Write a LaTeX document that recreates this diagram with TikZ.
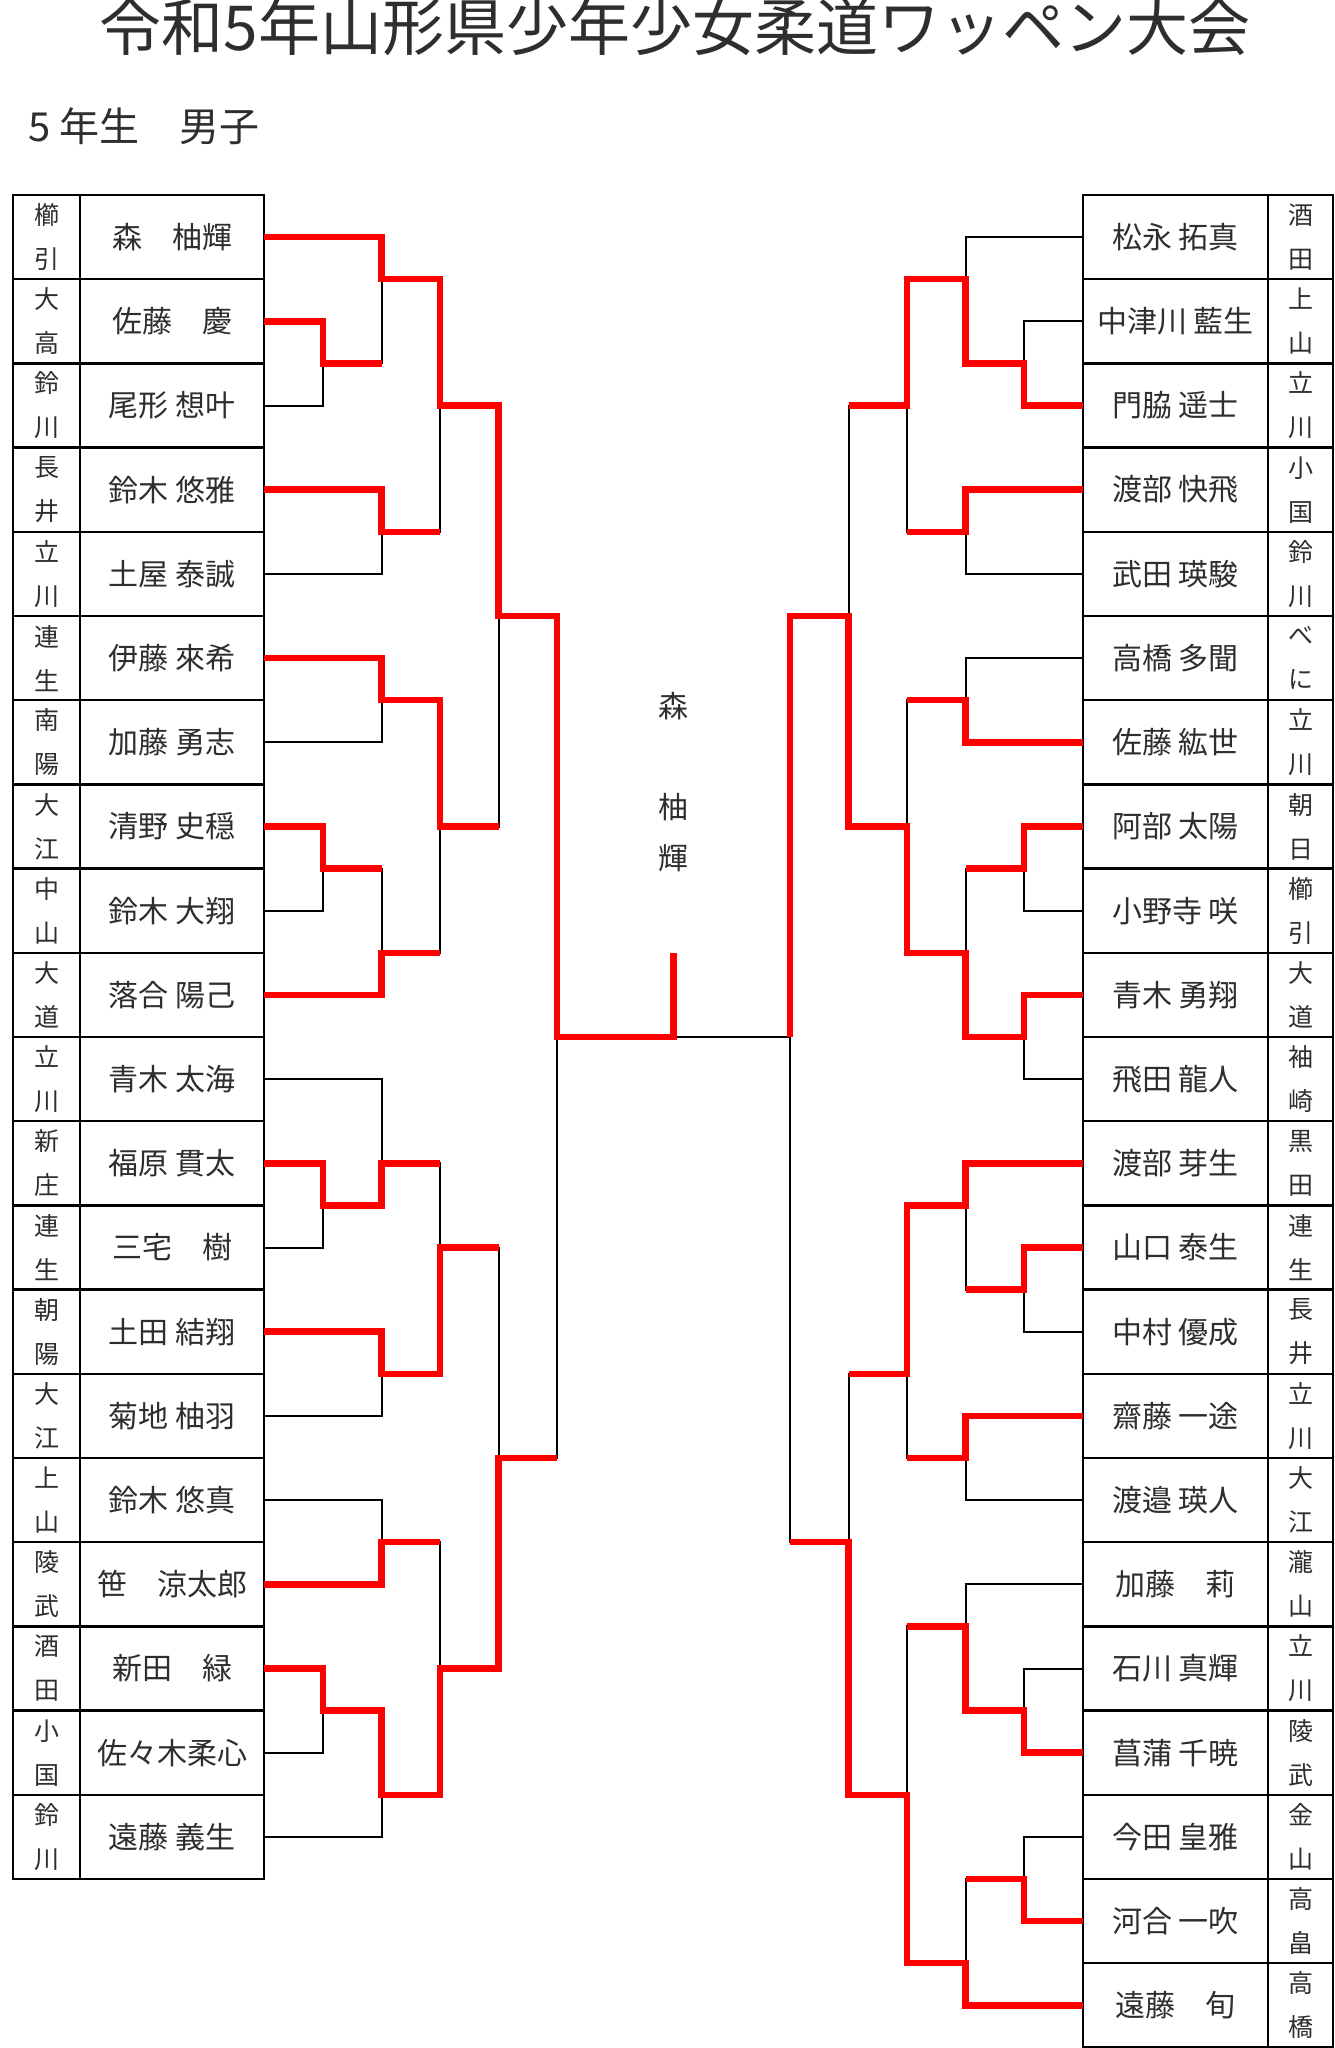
\documentclass[tikz,border=0pt]{standalone}
\usepackage{fontspec}
\setmainfont{Noto Sans CJK JP}
\definecolor{txt}{gray}{0.18}
\definecolor{brk}{RGB}{255,0,0}
\newcommand{\mynamefont}{\fontsize{30}{36}\selectfont}
\newcommand{\myprefont}{\fontsize{25}{44}\selectfont}
\newcommand{\mytitlefont}{\fontsize{62}{70}\selectfont}
\newcommand{\mysubfont}{\fontsize{40}{48}\selectfont}
\newcommand{\mychampfont}{\fontsize{30}{50.7}\selectfont}
\begin{document}
\begin{tikzpicture}[x=1pt,y=-1pt,
  declare function={ky(\k)=195+42.1*\k;},
  cell/.style={draw, line width=2.5pt, inner sep=0pt, outer sep=0pt, text=txt, minimum height=84.2pt},
  lname/.style={cell, minimum width=184pt, font=\mynamefont},
  rname/.style={cell, minimum width=185pt, font=\mynamefont},
  lpref/.style={cell, minimum width=67pt, font=\myprefont, align=center},
  rpref/.style={cell, minimum width=65pt, font=\myprefont, align=center},
  blk/.style={line width=2pt, black},
  win/.style={line width=6.5pt, brk, line join=miter}]
\useasboundingbox (0,0) rectangle (1335,2048);
\fill[white] (0,0) rectangle (1335,2048);

% titles
\node[font=\mytitlefont, anchor=base, text=txt, inner sep=0pt] (title) at (675,50.5) {令和5年山形県少年少女柔道ワッペン大会};
\node[font=\mysubfont, anchor=base west, text=txt, inner sep=0pt] (sub) at (28,141) {5 年生　男子};

% left table
\foreach \n/\a/\b [count=\i from 0] in {森　柚輝/櫛/引, 佐藤　慶/大/高, 尾形 想叶/鈴/川, 鈴木 悠雅/長/井, 土屋 泰誠/立/川, 伊藤 來希/連/生, 加藤 勇志/南/陽, 清野 史穏/大/江, 鈴木 大翔/中/山, 落合 陽己/大/道, 青木 太海/立/川, 福原 貫太/新/庄, 三宅　樹/連/生, 土田 結翔/朝/陽, 菊地 柚羽/大/江, 鈴木 悠真/上/山, 笹　涼太郎/陵/武, 新田　緑/酒/田, 佐々木柔心/小/国, 遠藤 義生/鈴/川}{
  \node[lname] (ln\i) at (172,{ky(2*\i+1)}) {\n};
  \node[lpref] (lp\i) at (46.5,{ky(2*\i+1)}) {\a\\\b};
}
% right table
\foreach \n/\a/\b [count=\i from 0] in {松永 拓真/酒/田, 中津川 藍生/上/山, 門脇 遥士/立/川, 渡部 快飛/小/国, 武田 瑛駿/鈴/川, 高橋 多聞/べ/に, 佐藤 紘世/立/川, 阿部 太陽/朝/日, 小野寺 咲/櫛/引, 青木 勇翔/大/道, 飛田 龍人/袖/崎, 渡部 芽生/黒/田, 山口 泰生/連/生, 中村 優成/長/井, 齋藤 一途/立/川, 渡邉 瑛人/大/江, 加藤　莉/瀧/山, 石川 真輝/立/川, 菖蒲 千暁/陵/武, 今田 皇雅/金/山, 河合 一吹/高/畠, 遠藤　旬/高/橋}{
  \node[rname] (rn\i) at (1175.5,{ky(2*\i+1)}) {\n};
  \node[rpref] (rp\i) at (1300.5,{ky(2*\i+1)}) {\a\\\b};
}

% left joints
\coordinate (lA) at (323,{ky(4)});
\coordinate (lB) at (381.5,{ky(2)});
\coordinate (lC) at (381.5,{ky(8)});
\coordinate (lD) at (440,{ky(5)});
\coordinate (lE) at (381.5,{ky(12)});
\coordinate (lF) at (323,{ky(16)});
\coordinate (lG) at (381.5,{ky(18)});
\coordinate (lH) at (440,{ky(15)});
\coordinate (lI) at (498.5,{ky(10)});
\coordinate (lJ) at (323,{ky(24)});
\coordinate (lK) at (381.5,{ky(23)});
\coordinate (lL) at (381.5,{ky(28)});
\coordinate (lM) at (440,{ky(25)});
\coordinate (lN) at (381.5,{ky(32)});
\coordinate (lO) at (323,{ky(36)});
\coordinate (lP) at (381.5,{ky(38)});
\coordinate (lQ) at (440,{ky(35)});
\coordinate (lR) at (498.5,{ky(30)});
\coordinate (lS) at (557,{ky(20)});
\coordinate (fin) at (673.5,{ky(20)});
\coordinate (finTop) at (673.5,{ky(18)});
% right joints
\coordinate (rA) at (1024,{ky(4)});
\coordinate (rB) at (965.5,{ky(2)});
\coordinate (rC) at (965.5,{ky(8)});
\coordinate (rD) at (907,{ky(5)});
\coordinate (rE) at (965.5,{ky(12)});
\coordinate (rF) at (1024,{ky(16)});
\coordinate (rG) at (1024,{ky(20)});
\coordinate (rH) at (965.5,{ky(18)});
\coordinate (rI) at (907,{ky(15)});
\coordinate (rJ) at (848.5,{ky(10)});
\coordinate (rK) at (1024,{ky(26)});
\coordinate (rL) at (965.5,{ky(24)});
\coordinate (rM) at (965.5,{ky(30)});
\coordinate (rN) at (907,{ky(28)});
\coordinate (rO) at (1024,{ky(36)});
\coordinate (rP) at (965.5,{ky(34)});
\coordinate (rQ) at (1024,{ky(40)});
\coordinate (rR) at (965.5,{ky(42)});
\coordinate (rS) at (907,{ky(38)});
\coordinate (rT) at (848.5,{ky(32)});
\coordinate (rU) at (790,{ky(20)});

% black bracket lines, left
\draw[blk]
 (ln1.east) -| (lA) (ln2.east) -| (lA)
 (ln0.east) -| (lB) (lA) -| (lB)
 (ln3.east) -| (lC) (ln4.east) -| (lC)
 (lB) -| (lD) (lC) -| (lD)
 (ln5.east) -| (lE) (ln6.east) -| (lE)
 (ln7.east) -| (lF) (ln8.east) -| (lF)
 (lF) -| (lG) (ln9.east) -| (lG)
 (lE) -| (lH) (lG) -| (lH)
 (lD) -| (lI) (lH) -| (lI)
 (ln11.east) -| (lJ) (ln12.east) -| (lJ)
 (ln10.east) -| (lK) (lJ) -| (lK)
 (ln13.east) -| (lL) (ln14.east) -| (lL)
 (lK) -| (lM) (lL) -| (lM)
 (ln15.east) -| (lN) (ln16.east) -| (lN)
 (ln17.east) -| (lO) (ln18.east) -| (lO)
 (lO) -| (lP) (ln19.east) -| (lP)
 (lN) -| (lQ) (lP) -| (lQ)
 (lM) -| (lR) (lQ) -| (lR)
 (lI) -| (lS) (lR) -| (lS)
 (rU) -- (fin);
% black bracket lines, right
\draw[blk]
 (rn1.west) -| (rA) (rn2.west) -| (rA)
 (rn0.west) -| (rB) (rA) -| (rB)
 (rn3.west) -| (rC) (rn4.west) -| (rC)
 (rB) -| (rD) (rC) -| (rD)
 (rn5.west) -| (rE) (rn6.west) -| (rE)
 (rn7.west) -| (rF) (rn8.west) -| (rF)
 (rn9.west) -| (rG) (rn10.west) -| (rG)
 (rF) -| (rH) (rG) -| (rH)
 (rE) -| (rI) (rH) -| (rI)
 (rD) -| (rJ) (rI) -| (rJ)
 (rn12.west) -| (rK) (rn13.west) -| (rK)
 (rn11.west) -| (rL) (rK) -| (rL)
 (rn14.west) -| (rM) (rn15.west) -| (rM)
 (rL) -| (rN) (rM) -| (rN)
 (rn17.west) -| (rO) (rn18.west) -| (rO)
 (rn16.west) -| (rP) (rO) -| (rP)
 (rn19.west) -| (rQ) (rn20.west) -| (rQ)
 (rQ) -| (rR) (rn21.west) -| (rR)
 (rP) -| (rS) (rR) -| (rS)
 (rN) -| (rT) (rS) -| (rT)
 (rJ) -| (rU) (rT) -| (rU);

% red winner paths, left
\draw[win] (ln0.east) -| (lB) -| (lD) -| (lI) -| (lS) -| (fin) -- (finTop);
\draw[win] (ln1.east) -| (lA) -- (lA -| lB);
\draw[win] (ln3.east) -| (lC) -- (lC -| lD);
\draw[win] (ln5.east) -| (lE) -| (lH) -- (lH -| lI);
\draw[win] (ln7.east) -| (lF) -- (lF -| lG);
\draw[win] (ln9.east) -| (lG) -- (lG -| lH);
\draw[win] (ln11.east) -| (lJ) -| (lK) -- (lK -| lM);
\draw[win] (ln13.east) -| (lL) -| (lM) -- (lM -| lR);
\draw[win] (ln16.east) -| (lN) -- (lN -| lQ);
\draw[win] (ln17.east) -| (lO) -| (lP) -| (lQ) -| (lR) -- (lR -| lS);
% red winner paths, right
\draw[win] (rn2.west) -| (rA) -| (rB) -| (rD) -- (rD -| rJ);
\draw[win] (rn3.west) -| (rC) -- (rC -| rD);
\draw[win] (rn6.west) -| (rE) -- (rE -| rI);
\draw[win] (rn7.west) -| (rF) -- (rF -| rH);
\draw[win] (rn9.west) -| (rG) -| (rH) -| (rI) -| (rJ) -| (rU);
\draw[win] (rn11.west) -| (rL) -| (rN) -- (rN -| rT);
\draw[win] (rn12.west) -| (rK) -- (rK -| rL);
\draw[win] (rn14.west) -| (rM) -- (rM -| rN);
\draw[win] (rn18.west) -| (rO) -| (rP) -- (rP -| rS);
\draw[win] (rn20.west) -| (rQ) -- (rQ -| rR);
\draw[win] (rn21.west) -| (rR) -| (rS) -| (rT) -- (rT -| rU);

% champion
\node[font=\mychampfont, align=center, text=txt, inner sep=0pt] (champ) at (673.5,782) {森\\　\\柚\\輝};
\end{tikzpicture}
\end{document}
